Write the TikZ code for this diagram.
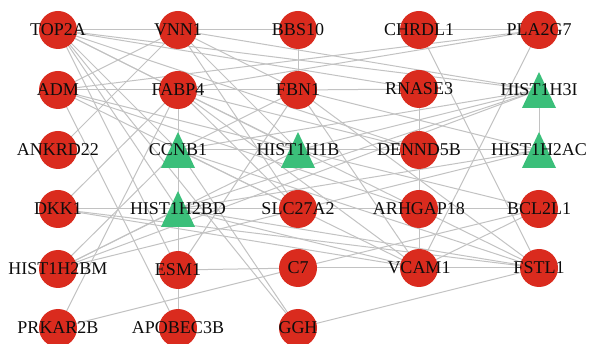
\documentclass[tikz,border=0pt]{standalone}
\usepackage{fontspec}
\setmainfont{Liberation Serif}
\usetikzlibrary{backgrounds}
\definecolor{genered}{RGB}{218,43,30}
\definecolor{histgreen}{RGB}{59,191,122}
\definecolor{edgegray}{RGB}{194,194,194}

\begin{document}
\begin{tikzpicture}[x=1pt,y=-1pt,
 gene/.style={circle,fill=genered,minimum size=38pt,inner sep=0pt},
 hub/.style={circle,minimum size=36pt,inner sep=0pt},
 tag/.style={font=\fontsize{18}{20}\selectfont,text=black!95,inner sep=0pt},
 link/.style={draw=edgegray,line width=1pt}]
 \useasboundingbox (0,0) rectangle (589,344);
 % red genes
 \foreach \s/\x/\y in {TOP2A/58/30, VNN1/178/30, BBS10/298/30, CHRDL1/419/30, PLA2G7/539/30,
     ADM/58/90, FABP4/178/90, FBN1/298/90, RNASE3/419/89,
     ANKRD22/58/150, DENND5B/419/150,
     DKK1/58/209, SLC27A2/298/209, ARHGAP18/419/209, BCL2L1/539/209,
     HIST1H2BM/58/269, ESM1/178/270, C7/298/268, VCAM1/419/268, FSTL1/539/268,
     PRKAR2B/58/328, APOBEC3B/178/328, GGH/298/328}{
     \node[gene,label={[tag,name=\s-t]center:\s}](\s) at (\x,\y){};}
 % green histone triangles
 \foreach \s/\x/\y in {HIST1H3I/539/90, CCNB1/178/150, HIST1H1B/298/150,
     HIST1H2AC/539/150, HIST1H2BD/178/209}{
     \fill[histgreen] (\x-17,\y+18) -- (\x,\y-18) -- (\x+17,\y+18) -- cycle;
     \node[hub,label={[tag,name=\s-t]center:\s}](\s) at (\x,\y){};}

 \begin{scope}[on background layer]
 \foreach \s/\t in {TOP2A/VNN1, TOP2A/FABP4, TOP2A/HIST1H3I, TOP2A/RNASE3, TOP2A/CCNB1,
     TOP2A/HIST1H2BD, TOP2A/ESM1, TOP2A/GGH, TOP2A/HIST1H1B, TOP2A/DENND5B,
     VNN1/BBS10, VNN1/ADM, VNN1/ANKRD22, VNN1/SLC27A2, VNN1/HIST1H1B, VNN1/HIST1H3I, VNN1/FBN1,
     BBS10/FBN1, CHRDL1/PLA2G7, CHRDL1/FSTL1,
     PLA2G7/ADM, PLA2G7/FABP4, PLA2G7/VCAM1,
     ADM/FABP4, ADM/APOBEC3B, ADM/HIST1H1B, ADM/SLC27A2, ADM/ARHGAP18,
     FABP4/FBN1, FABP4/CCNB1, FABP4/DENND5B, FABP4/ARHGAP18, FABP4/VCAM1,
     FABP4/SLC27A2, FABP4/DKK1, FABP4/PRKAR2B,
     FBN1/RNASE3, FBN1/CCNB1, FBN1/ESM1, FBN1/FSTL1, FBN1/HIST1H2AC, FBN1/VCAM1,
     RNASE3/DENND5B,
     HIST1H3I/HIST1H2AC, HIST1H3I/CCNB1, HIST1H3I/HIST1H1B, HIST1H3I/HIST1H2BD, HIST1H3I/HIST1H2BM,
     HIST1H2AC/DENND5B, HIST1H2AC/HIST1H2BD, HIST1H2AC/HIST1H2BM, HIST1H2AC/CCNB1,
     CCNB1/HIST1H1B, CCNB1/HIST1H2BD, CCNB1/HIST1H2BM, CCNB1/VCAM1, CCNB1/GGH, CCNB1/FSTL1,
     HIST1H1B/HIST1H2BM, HIST1H1B/BCL2L1, DENND5B/ARHGAP18,
     DKK1/HIST1H2BD, DKK1/VCAM1, DKK1/FSTL1,
     HIST1H2BD/SLC27A2, HIST1H2BD/ESM1, HIST1H2BD/HIST1H2BM, HIST1H2BD/FSTL1, HIST1H2BD/VCAM1,
     SLC27A2/ARHGAP18, ARHGAP18/BCL2L1, ARHGAP18/VCAM1, ARHGAP18/FSTL1,
     BCL2L1/C7, BCL2L1/VCAM1, ESM1/C7, ESM1/APOBEC3B,
     C7/VCAM1, C7/PRKAR2B, VCAM1/FSTL1, GGH/FSTL1}{
    \path[link] (\s.center) -- (\t.center);}
 \end{scope}
\end{tikzpicture}
\end{document}
